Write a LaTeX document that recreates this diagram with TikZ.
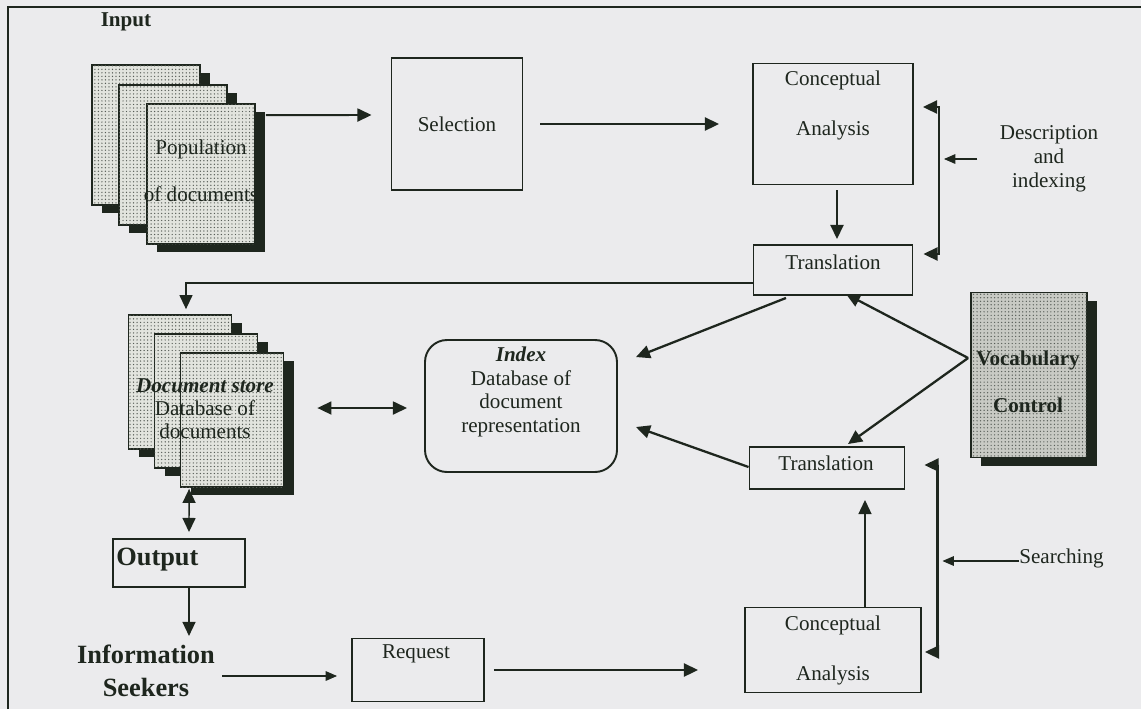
\documentclass[tikz,border=0pt,12pt]{standalone}
\usepackage{fontspec}
\setmainfont{Liberation Serif}
\usetikzlibrary{arrows.meta,calc,shadows,patterns.meta}

\definecolor{ink}{RGB}{30,38,30}
\definecolor{paper}{RGB}{235,235,237}
\definecolor{pagefill}{RGB}{226,228,222}
\definecolor{vocfill}{RGB}{200,202,196}

\begin{document}
\begin{tikzpicture}[x=0.2mm,y=-0.2mm,color=ink,
    >={Triangle[length=8pt,width=7.4pt]}]
    \tikzstyle{box}=[draw=ink,line width=1.1pt,inner sep=0pt,align=center]
    \tikzstyle{lbl}=[inner sep=0pt,align=center]
    \tikzstyle{docpage}=[draw=ink,line width=1pt,fill=pagefill,inner sep=0pt,
        postaction={pattern={Dots[distance=2pt,radius=0.4pt]},pattern color=ink!75},
        drop shadow={shadow xshift=2mm,shadow yshift=-1.6mm,fill=ink,opacity=1}]
    \tikzstyle{arr}=[line width=1.3pt,->]
    \tikzstyle{tarr}=[line width=0.6pt,-{Triangle[length=6.5pt,width=5.5pt]}]

    % Background and frame
    \fill[paper] (0,0) rectangle (1141,709);
    \useasboundingbox (0,0) rectangle (1141,709);
    \draw[line width=1.2pt] (8,709) -- (8,7) -- (1141,7);

    % Input
    \node[lbl,font=\bfseries] (input) at (126,22) {Input};
    \node[docpage,minimum width=21.6mm,minimum height=28mm] (pop1) at (146,135) {};
    \node[docpage,minimum width=21.6mm,minimum height=28mm] (pop2) at (173,155) {};
    \node[docpage,minimum width=21.6mm,minimum height=28mm] (pop3) at (201,174) {};
    \node[lbl] (popt) at (201,171) {Population\\[12.2pt]of documents};

    \node[box,minimum width=26.2mm,minimum height=26.4mm] (sel) at (457,124) {Selection};
    \node[box,minimum width=32mm,minimum height=24.2mm] (ca1) at (833,124) {};
    \node[lbl] (ca1t) at (833,105) {Conceptual\\[14pt]Analysis};
    \node[box,minimum width=31.8mm,minimum height=10mm] (tr1) at (833,270) {};
    \node[lbl] (tr1t) at (833,262) {Translation};
    \node[lbl] (desc) at (1049,159) {Description\\[-0.8pt]and\\[-0.8pt]indexing};

    % Stores
    \node[docpage,minimum width=20.6mm,minimum height=26.8mm] (doc1) at (180,382) {};
    \node[docpage,minimum width=20.6mm,minimum height=26.8mm] (doc2) at (206,401) {};
    \node[docpage,minimum width=20.6mm,minimum height=26.8mm] (doc3) at (232,420) {};
    \node[lbl] (doct) at (205,409) {\textbf{\textit{Document store}}\\[-1.4pt]Database of\\[-1.4pt]documents};

    \node[box,rounded corners=4.4mm,minimum width=38.4mm,minimum height=26.4mm] (idx) at (521,406) {};
    \node[lbl] (idxt) at (521,392) {\textbf{\textit{Index}}\\[-1pt]Database of\\[-1pt]document\\[-1pt]representation};

    \node[docpage,fill=vocfill,minimum width=23.2mm,minimum height=33mm] (voc) at (1029,375) {};
    \node[lbl,font=\bfseries] (voct) at (1028,382) {Vocabulary\\[12.2pt]Control};

    % Searching
    \node[box,minimum width=31mm,minimum height=8.4mm] (tr2) at (827,468) {};
    \node[lbl] (tr2t) at (826,463) {Translation};
    \node[box,minimum width=35.2mm,minimum height=17mm] (ca2) at (833,650) {Conceptual\\[14pt]Analysis};
    \node[lbl,anchor=west] (srch) at (1019,558) {Searching};

    \node[box,minimum width=26.4mm,minimum height=9.6mm] (out) at (179,563) {};
    \node[lbl,anchor=west,font=\fontsize{15}{18}\bfseries] (outt) at (116,560) {Output};
    \node[lbl,font=\fontsize{15}{18.8}\bfseries] (info) at (146,671) {Information\\Seekers};
    \node[box,minimum width=26.4mm,minimum height=12.6mm] (req) at (418,670) {};
    \node[lbl] (reqt) at (416,654) {Request};

    \coordinate (brk1) at ($(ca1.east)+(25,35)$);
    \coordinate (brk2) at ($(tr2.east)+(32,93)$);

    % Connectors
    \draw[arr,line width=1.1pt] ($(pop3.north east)+(10,12)$) -- ($(sel.west)+(-19,-9)$);
    \draw[arr] ($(sel.east)+(17,0)$) -- ($(ca1.west)+(-33,0)$);
    \draw[arr,line width=1.1pt] ($(ca1.south)+(4,5)$) -- ($(tr1.north)+(4,-5)$);
    \draw[arr,<->] ($(ca1.east)+(9,-17)$) -- ++(16,0) |- ($(tr1.east)+(10,-16)$);
    \draw[tarr] ($(desc.west)+(-22,0)$) -- ([xshift=1mm]brk1);
    \draw[arr,line width=0.8pt] ($(tr1.west)+(0,13)$) -| ($(doc1.north)+(6,-5)$);
    \draw[arr,<->,line width=1pt] ($(doc3.east)+(33,-12)$) -- ($(idx.west)+(-17,2)$);
    \draw[arr] ($(tr1.south)+(-47,2)$) -- ($(idx.north east)+(18,18)$);
    \draw[arr] ($(voc.west)+(-2,-17)$) -- ($(tr1.south)+(13,-2)$);
    \draw[arr] ($(voc.west)+(-2,-17)$) -- ($(tr2.north)+(21,-2)$);
    \draw[arr] ($(tr2.west)+(0,-1)$) -- ($(idx.east)+(18,21)$);
    \draw[arr,<->] ($(tr2.east)+(19,-3)$) -- ++(13,0) |- ($(ca2.east)+(3,2)$);
    \draw[tarr] ($(srch.west)+(0,3)$) -- ([xshift=1mm]brk2);
    \draw[arr,line width=0.8pt] ($(ca2.north)+(32,0)$) -- ($(tr2.south)+(38,10)$);
    \draw[arr,<->,line width=0.8pt] ($(doc3.south west)+(9.5,1)$) -- ($(out.north)+(10,-6)$);
    \draw[arr,line width=0.8pt] ($(out.south)+(10,0)$) -- ++(0,48);
    \draw[tarr] ($(info.east)+(7,5)$) -- ($(req.west)+(-14,6)$);
    \draw[arr] ($(req.east)+(9,0)$) -- ($(ca2.west)+(-46,20)$);
\end{tikzpicture}
\end{document}
